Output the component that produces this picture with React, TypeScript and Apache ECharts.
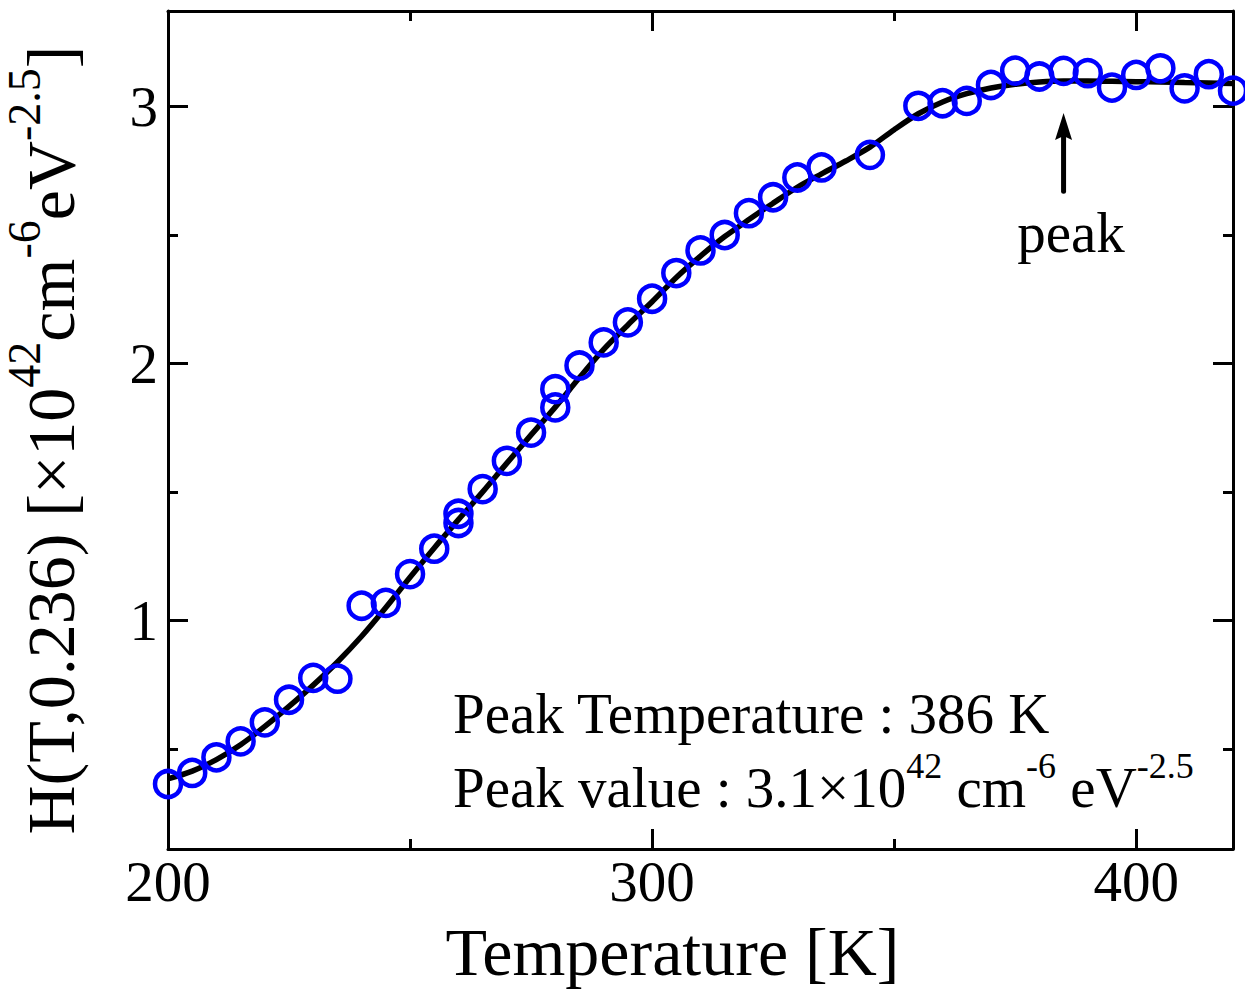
import React, { useEffect, useRef } from "react";
import * as echarts from "echarts";

// ---- data ----
const sampleT = [200, 205, 210, 215, 220, 225, 230, 235, 240, 245, 250, 255, 260, 260, 265, 270, 275, 280, 280, 285, 290, 295, 300, 305, 310, 315, 320, 325, 330, 335, 345, 355, 360, 365, 370, 375, 380, 385, 390, 395, 400, 405, 410, 415, 420];
const sampleH = [0.363, 0.406, 0.467, 0.529, 0.603, 0.691, 0.776, 0.773, 1.057, 1.068, 1.18, 1.279, 1.379, 1.415, 1.511, 1.621, 1.731, 1.829, 1.9, 1.992, 2.082, 2.16, 2.252, 2.352, 2.44, 2.5, 2.585, 2.647, 2.724, 2.763, 2.812, 3.003, 3.013, 3.022, 3.084, 3.14, 3.117, 3.139, 3.13, 3.074, 3.123, 3.149, 3.071, 3.126, 3.062];

const fitT = [200, 205, 210, 215, 220, 225, 230, 235, 240, 245, 250, 255, 260, 265, 270, 275, 280, 285, 290, 295, 300, 305, 310, 315, 320, 325, 330, 335, 340, 345, 350, 355, 360, 365, 370, 375, 380, 385, 390, 395, 400, 405, 410, 415, 420];
const fitH = [0.383, 0.413, 0.458, 0.516, 0.587, 0.665, 0.748, 0.838, 0.938, 1.05, 1.168, 1.282, 1.392, 1.5, 1.612, 1.722, 1.83, 1.945, 2.055, 2.15, 2.24, 2.335, 2.418, 2.494, 2.56, 2.624, 2.686, 2.738, 2.788, 2.842, 2.91, 2.972, 3.018, 3.05, 3.072, 3.087, 3.096, 3.1, 3.1, 3.099, 3.097, 3.096, 3.094, 3.092, 3.09];

const xMajorTicks = [200, 300, 400];
const xMinorTicks = [250, 350];
const yMajorTicks = [1, 2, 3];
const yMinorTicks = [0.5, 1.5, 2.5];

const peakArrowT = 385;
const peakArrowFrom = 2.67;
const peakArrowTo = 2.975;

const FONT = "'Liberation Serif', 'Times New Roman', serif";

export default function App() {
  const ref = useRef<HTMLDivElement>(null);
  useEffect(() => {
    const chart = echarts.init(ref.current!, null, { renderer: "svg" });
    const xBase = { type: "value", min: 200, max: 420, splitLine: { show: false } };
    const yBase = { type: "value", min: 0.11, max: 3.372, splitLine: { show: false } };
    const lineStyle = { color: "#000", width: 3 };
    const noLabel = { show: false };
    const xAxes = [
      {
        ...xBase, position: "bottom",
        axisLine: { show: true, lineStyle },
        axisTick: { show: true, inside: true, length: 20, lineStyle, customValues: xMajorTicks },
        axisLabel: { show: true, customValues: xMajorTicks, margin: 4, fontSize: 57, fontFamily: FONT, color: "#000" },
        name: "Temperature [K]", nameLocation: "middle", nameGap: 69,
        nameTextStyle: { fontSize: 68, fontFamily: FONT, color: "#000", padding: [0, 56, 0, 0] },
      },
      {
        ...xBase, position: "bottom",
        axisLine: { show: false },
        axisTick: { show: true, inside: true, length: 10, lineStyle, customValues: xMinorTicks },
        axisLabel: noLabel,
      },
      {
        ...xBase, position: "top",
        axisLine: { show: true, lineStyle },
        axisTick: { show: true, inside: true, length: 20, lineStyle, customValues: xMajorTicks },
        axisLabel: noLabel,
      },
      {
        ...xBase, position: "top",
        axisLine: { show: false },
        axisTick: { show: true, inside: true, length: 10, lineStyle, customValues: xMinorTicks },
        axisLabel: noLabel,
      },
    ];
    const yAxes = [
      {
        ...yBase, position: "left",
        axisLine: { show: true, lineStyle },
        axisTick: { show: true, inside: true, length: 20, lineStyle, customValues: yMajorTicks },
        axisLabel: { show: true, customValues: yMajorTicks, margin: 10, fontSize: 57, fontFamily: FONT, color: "#000" },
        name: "{n|H(T,0.236) [×10}{s|42}{n|cm}{s|-6}{n|eV}{s|-2.5}{n|]}",
        nameLocation: "middle", nameGap: 83, nameRotate: 90,
        nameTextStyle: {
          fontFamily: FONT, color: "#000", padding: [0, 20, 0, 0],
          rich: {
            n: { fontSize: 68, fontFamily: FONT, color: "#000", lineHeight: 84, verticalAlign: "bottom" },
            s: { fontSize: 46, fontFamily: FONT, color: "#000", verticalAlign: "top" },
          },
        },
      },
      {
        ...yBase, position: "left",
        axisLine: { show: false },
        axisTick: { show: true, inside: true, length: 10, lineStyle, customValues: yMinorTicks },
        axisLabel: noLabel,
      },
      {
        ...yBase, position: "right",
        axisLine: { show: true, lineStyle },
        axisTick: { show: true, inside: true, length: 20, lineStyle, customValues: yMajorTicks },
        axisLabel: noLabel,
      },
      {
        ...yBase, position: "right",
        axisLine: { show: false },
        axisTick: { show: true, inside: true, length: 10, lineStyle, customValues: yMinorTicks },
        axisLabel: noLabel,
      },
    ];
    const richText = {
      n: { fontSize: 57, fontFamily: FONT, fill: "#000", lineHeight: 68, verticalAlign: "bottom" },
      s: { fontSize: 36, fontFamily: FONT, fill: "#000", verticalAlign: "top" },
    };
    chart.setOption({
      animation: false,
      backgroundColor: "#fff",
      grid: { left: 168, right: 12, top: 11, bottom: 140, containLabel: false, outerBoundsMode: "none" },
      xAxis: xAxes,
      yAxis: yAxes,
      series: [
        {
          type: "line",
          data: fitT.map((t, i) => [t, fitH[i]]),
          smooth: 0.3,
          showSymbol: false,
          lineStyle: { color: "#000", width: 5.5 },
          z: 2,
        },
        {
          type: "scatter",
          data: sampleT.map((t, i) => [t, sampleH[i]]),
          symbol: "circle",
          symbolSize: 26,
          clip: false,
          itemStyle: { color: "rgba(0,0,0,0)", borderColor: "#0000ff", borderWidth: 4.5, opacity: 1 },
          z: 3,
        },
      ],
      graphic: [
        {
          type: "text", x: 453, y: 713,
          style: { text: "Peak Temperature : 386 K", font: `57px ${FONT}`, lineHeight: 48, fill: "#000", verticalAlign: "middle", align: "left" },
        },
        {
          type: "text", x: 453, y: 782,
          style: {
            text: "{n|Peak value : 3.1×10}{s|42}{n| cm}{s|-6}{n| eV}{s|-2.5}",
            rich: richText, fill: "#000", verticalAlign: "middle", align: "left",
          },
        },
        {
          type: "text", x: 1071, y: 232,
          style: { text: "peak", font: `57px ${FONT}`, fill: "#000", verticalAlign: "middle", align: "center" },
        },
      ],
    });
    // arrow pointing at the peak, positioned through the chart's own scales
    const tail = chart.convertToPixel({ xAxisIndex: 0, yAxisIndex: 0 }, [peakArrowT, peakArrowFrom]) as number[];
    const tip = chart.convertToPixel({ xAxisIndex: 0, yAxisIndex: 0 }, [peakArrowT, peakArrowTo]) as number[];
    const headLen = 27;
    const headHalf = 8.5;
    chart.setOption({
      graphic: [
        {
          type: "line", id: "arrowShaft",
          shape: { x1: tail[0], y1: tail[1], x2: tip[0], y2: tip[1] + headLen - 6 },
          style: { stroke: "#000", lineWidth: 5, lineCap: "round" },
          z: 10,
        },
        {
          type: "polygon", id: "arrowHead",
          shape: {
            points: [
              [tip[0], tip[1]],
              [tip[0] + headHalf, tip[1] + headLen],
              [tip[0], tip[1] + headLen - 4],
              [tip[0] - headHalf, tip[1] + headLen],
            ],
          },
          style: { fill: "#000" },
          z: 10,
        },
      ],
    });
    return () => chart.dispose();
  }, []);
  return <div ref={ref} style={{ position: "absolute", left: 0, top: 0, width: 1245, height: 989 }} />;
}
